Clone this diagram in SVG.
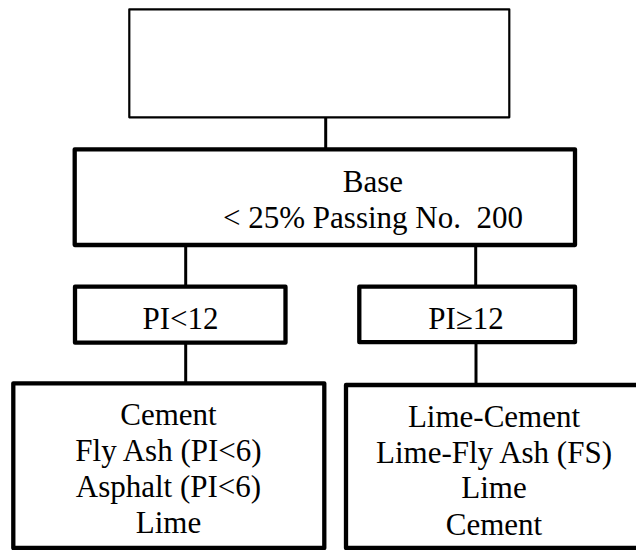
<svg xmlns="http://www.w3.org/2000/svg" width="636" height="550" viewBox="0 0 636 550">
<style>
.box{fill:#fff;stroke:#000;stroke-width:4.3;stroke-linejoin:round}
.thin{fill:#fff;stroke:#000;stroke-width:2.2;stroke-linejoin:round}
.conn{stroke:#000;stroke-width:3;fill:none}
</style>
<rect width="636" height="550" fill="#fff"/>
<g id="connectors">
<line class="conn" x1="325.7" y1="117" x2="325.7" y2="149"/>
<line class="conn" x1="185.7" y1="245" x2="185.7" y2="287"/>
<line class="conn" x1="475.7" y1="245" x2="475.7" y2="287"/>
<line class="conn" x1="185.7" y1="342" x2="185.7" y2="383"/>
<line class="conn" x1="476" y1="342" x2="476" y2="385"/>
</g>
<g id="top">
<rect class="thin" x="129.3" y="9.3" width="380" height="108"/>
</g>
<g id="base">
<rect class="box" x="74.7" y="149.3" width="500.3" height="95.7"/>
<text x="373" y="191.5" font-size="31" text-anchor="middle" font-family="Liberation Serif, Tinos, Times New Roman, serif">Base</text>
<text x="373" y="228.3" font-size="31" text-anchor="middle" font-family="Liberation Serif, Tinos, Times New Roman, serif">&lt; 25% Passing No.&#160; 200</text>
</g>
<g id="pi-lt">
<rect class="box" x="75" y="286.7" width="210.5" height="56"/>
<text x="180.5" y="329.3" font-size="31" text-anchor="middle" font-family="Liberation Serif, Tinos, Times New Roman, serif">PI&lt;12</text>
</g>
<g id="pi-ge">
<rect class="box" x="359.3" y="286.7" width="215.7" height="55.5"/>
<text x="466" y="329.3" font-size="31" text-anchor="middle" font-family="Liberation Serif, Tinos, Times New Roman, serif">PI&#8805;12</text>
</g>
<g id="left-result">
<rect class="box" x="13.3" y="383.3" width="311" height="164.7"/>
<text x="168.5" y="425" font-size="31" text-anchor="middle" font-family="Liberation Serif, Tinos, Times New Roman, serif">Cement</text>
<text x="168.5" y="461" font-size="31" text-anchor="middle" font-family="Liberation Serif, Tinos, Times New Roman, serif">Fly Ash (PI&lt;6)</text>
<text x="168.5" y="496.7" font-size="31" text-anchor="middle" font-family="Liberation Serif, Tinos, Times New Roman, serif">Asphalt (PI&lt;6)</text>
<text x="168.5" y="533" font-size="31" text-anchor="middle" font-family="Liberation Serif, Tinos, Times New Roman, serif">Lime</text>
</g>
<g id="right-result">
<rect class="box" x="346" y="385" width="300" height="163"/>
<text x="494" y="426.5" font-size="31" text-anchor="middle" font-family="Liberation Serif, Tinos, Times New Roman, serif">Lime-Cement</text>
<text x="494" y="462.5" font-size="31" text-anchor="middle" font-family="Liberation Serif, Tinos, Times New Roman, serif">Lime-Fly Ash (FS)</text>
<text x="494" y="498.3" font-size="31" text-anchor="middle" font-family="Liberation Serif, Tinos, Times New Roman, serif">Lime</text>
<text x="494" y="534.5" font-size="31" text-anchor="middle" font-family="Liberation Serif, Tinos, Times New Roman, serif">Cement</text>
</g>
</svg>
